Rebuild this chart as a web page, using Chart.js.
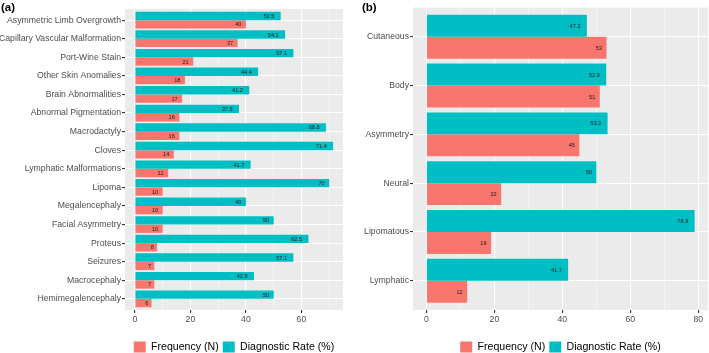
<!DOCTYPE html>
<html><head><meta charset="utf-8">
<script src="https://cdn.jsdelivr.net/npm/chart.js@4.4.1/dist/chart.umd.min.js"></script>
<style>
html,body{margin:0;padding:0;background:#fff;overflow:hidden;}
#wrap{position:relative;width:709px;height:353px;}
canvas{position:absolute;top:0;}
.ttl{position:absolute;font:bold 11.5px "Liberation Sans",Arial,sans-serif;color:#000;line-height:13px;}
</style></head><body>
<div id="wrap">
<canvas id="ca" width="355" height="353" style="left:0"></canvas>
<canvas id="cb" width="354" height="353" style="left:355px"></canvas>
<div class="ttl" style="left:1px;top:1px">(a)</div>
<div class="ttl" style="left:362px;top:1px">(b)</div>
</div>
<script>
// ---- Data ----
const categoriesA = ['Asymmetric Limb Overgrowth','Capillary Vascular Malformation','Port-Wine Stain','Other Skin Anomalies','Brain Abnormalities','Abnormal Pigmentation','Macrodactyly','Cloves','Lymphatic Malformations','Lipoma','Megalencephaly','Facial Asymmetry','Proteus','Seizures','Macrocephaly','Hemimegalencephaly'];
const diagRateA = [52.5,54.1,57.1,44.4,41.2,37.5,68.8,71.4,41.7,70,40,50,62.5,57.1,42.9,50];
const frequencyA = [40,37,21,18,17,16,16,14,12,10,10,10,8,7,7,6];

const categoriesB = ['Cutaneous','Body','Asymmetry','Neural','Lipomatous','Lymphatic'];
const diagRateB = [47.2,52.9,53.3,50,78.9,41.7];
const frequencyB = [53,51,45,22,19,12];

const xTicksA = [0,10,20,30,40,50,60,70];
const xTicksB = [0,10,20,30,40,50,60,70,80];
const seriesNames = ['Diagnostic Rate (%)','Frequency (N)'];

Chart.defaults.font.family = '"Liberation Sans", Arial, Helvetica, sans-serif';

const bgPlugin = {
  id:'bg',
  beforeDraw(chart){
    const a = chart.chartArea, c = chart.ctx;
    c.save(); c.fillStyle = '#EBEBEB';
    c.fillRect(a.left, a.top, a.right - a.left, a.bottom - a.top);
    c.restore();
  }
};
const labelPlugin = {
  id:'vals',
  afterDatasetsDraw(chart){
    const c = chart.ctx;
    c.save();
    c.font = '5.6px "Liberation Sans", Arial, sans-serif';
    c.fillStyle = '#1a1a1a';
    c.textAlign = 'right';
    c.textBaseline = 'middle';
    chart.data.datasets.forEach((ds, di) => {
      chart.getDatasetMeta(di).data.forEach((el, i) => {
        const txt = String(ds.data[i].x);
        const w = c.measureText(txt).width;
        c.fillText(txt, el.x - (2 + 0.4 * w), el.y + 0.5);
      });
    });
    c.restore();
  }
};

function makeChart(id, cats, rate, freq, xTicks, xMin, xMax, yWidth, padRight, padTop){
  const n = cats.length;
  const pts = arr => arr.map((v, i) => ({x: v, y: i + 1}));
  return new Chart(document.getElementById(id), {
    type:'bar',
    data:{datasets:[
      {label:seriesNames[0], data:pts(rate), backgroundColor:'#00BFC4', borderWidth:0},
      {label:seriesNames[1], data:pts(freq), backgroundColor:'#F8766D', borderWidth:0}
    ]},
    options:{
      indexAxis:'y', responsive:false, animation:false,
      datasets:{bar:{categoryPercentage:0.9, barPercentage:1}},
      layout:{padding:{left:0, right:padRight, top:padTop, bottom:-9.5}},
      plugins:{
        tooltip:{enabled:false},
        legend:{position:'bottom', fullSize:false,
          labels:{boxWidth:12, boxHeight:11, padding:4, color:'#000', font:{size:10.6},
            sort:(a,b) => b.datasetIndex - a.datasetIndex}}
      },
      scales:{
        x:{type:'linear', min:xMin, max:xMax, offset:false,
          afterBuildTicks:s => { s.ticks = xTicks.map(v => ({value:v})); },
          afterFit:s => { s.height = 27.5; },
          grid:{offset:false, color:'#ffffff', lineWidth:c => (c.tick && c.tick.value % 20 === 0) ? 1.1 : 0.5,
            tickColor:c => (c.tick && c.tick.value % 20 === 0) ? '#333333' : 'rgba(0,0,0,0)', tickLength:3},
          border:{display:false},
          ticks:{callback:v => (v % 20 === 0 ? String(v) : ''), color:'#4D4D4D', font:{size:8.7}, padding:1, autoSkip:false, maxRotation:0}
        },
        y:{type:'linear', reverse:true, min:0.4, max:n + 0.6, offset:false,
          afterBuildTicks:s => { s.ticks = cats.map((c, i) => ({value:i + 1})); },
          afterFit:s => { s.width = yWidth; },
          grid:{offset:false, color:'#ffffff', lineWidth:1.1, tickColor:'#333333', tickLength:3},
          border:{display:false},
          ticks:{callback:v => (cats[v - 1] !== undefined ? cats[v - 1] : ''), color:'#4D4D4D', font:{size:8.7}, padding:1, autoSkip:false}
        }
      }
    },
    plugins:[bgPlugin, labelPlugin]
  });
}

makeChart('ca', categoriesA, diagRateA, frequencyA, xTicksA, -3.57, 74.97, 125, 12, 9);
makeChart('cb', categoriesB, diagRateB, frequencyB, xTicksB, -3.945, 82.845, 58, 1, 7.5);
</script>
</body></html>
